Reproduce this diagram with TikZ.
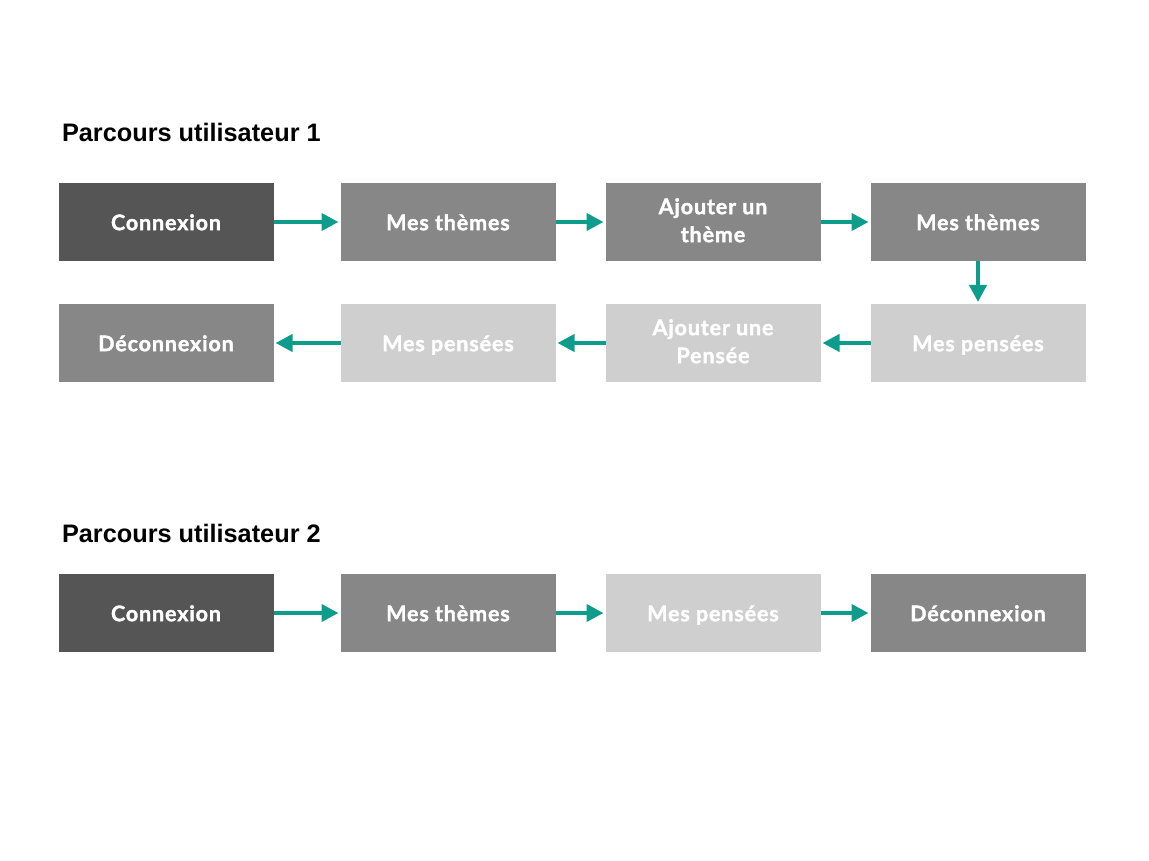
\documentclass[tikz,border=0pt]{standalone}
\usepackage{fontspec}
\setmainfont{Liberation Sans}
\newfontfamily\boxfont{Lato}[LetterSpace=4,BoldFeatures={FakeBold=1.6}]
\usepackage{tikz}
\usetikzlibrary{arrows.meta,positioning}

\definecolor{stepdark}{HTML}{555555}
\definecolor{stepmid}{HTML}{878787}
\definecolor{steplight}{HTML}{CFCFCF}
\definecolor{flowteal}{HTML}{0E9D8C}

\begin{document}
\begin{tikzpicture}[x=1pt,y=1pt,>={Triangle[length=17pt,width=17pt]},node distance=43pt and 50pt]
		\tikzstyle{every node}=[inner sep=0pt,outer sep=0pt]
		\tikzstyle{box}=[minimum width=215pt,minimum height=78pt,align=center,
			text=white,font=\boxfont\bfseries\fontsize{21.5}{28}\selectfont,
			execute at begin node=\vphantom{Ép},execute at end node=\vphantom{Ép}]
		\tikzstyle{title}=[anchor=base west,font=\bfseries\fontsize{25.3}{30}\selectfont]
		\tikzstyle{flow}=[color=flowteal,line width=4pt,shorten >=2pt]

		\useasboundingbox (0,0) rectangle (1149,-861);

		% parcours 1
		\node[title] (t1) at (62,-142) {Parcours utilisateur 1};
		\node[box,fill=stepdark] (1) at (166,-222) {Connexion};
		\node[box,fill=stepmid] (2) [right=67pt of 1] {Mes thèmes};
		\node[box,fill=stepmid] (3) [right=of 2] {Ajouter un\\thème};
		\node[box,fill=stepmid] (4) [right=of 3] {Mes thèmes};
		\node[box,fill=steplight] (5) [below=of 4] {Mes pensées};
		\node[box,fill=steplight] (6) [below=of 3] {Ajouter une\\Pensée};
		\node[box,fill=steplight] (7) [below=of 2] {Mes pensées};
		\node[box,fill=stepmid] (8) [below=of 1] {Déconnexion};

		\path[->,flow]
		(1) edge (2)
		(2) edge (3)
		(3) edge (4)
		(4) edge (5)
		(5) edge (6)
		(6) edge (7)
		(7) edge (8);

		% parcours 2
		\node[title] (t2) at (62,-542) {Parcours utilisateur 2};
		\node[box,fill=stepdark] (9) at (166,-613) {Connexion};
		\node[box,fill=stepmid] (10) [right=67pt of 9] {Mes thèmes};
		\node[box,fill=steplight] (11) [right=of 10] {Mes pensées};
		\node[box,fill=stepmid] (12) [right=of 11] {Déconnexion};

		\path[->,flow]
		(9) edge (10)
		(10) edge (11)
		(11) edge (12);
	\end{tikzpicture}
\end{document}
